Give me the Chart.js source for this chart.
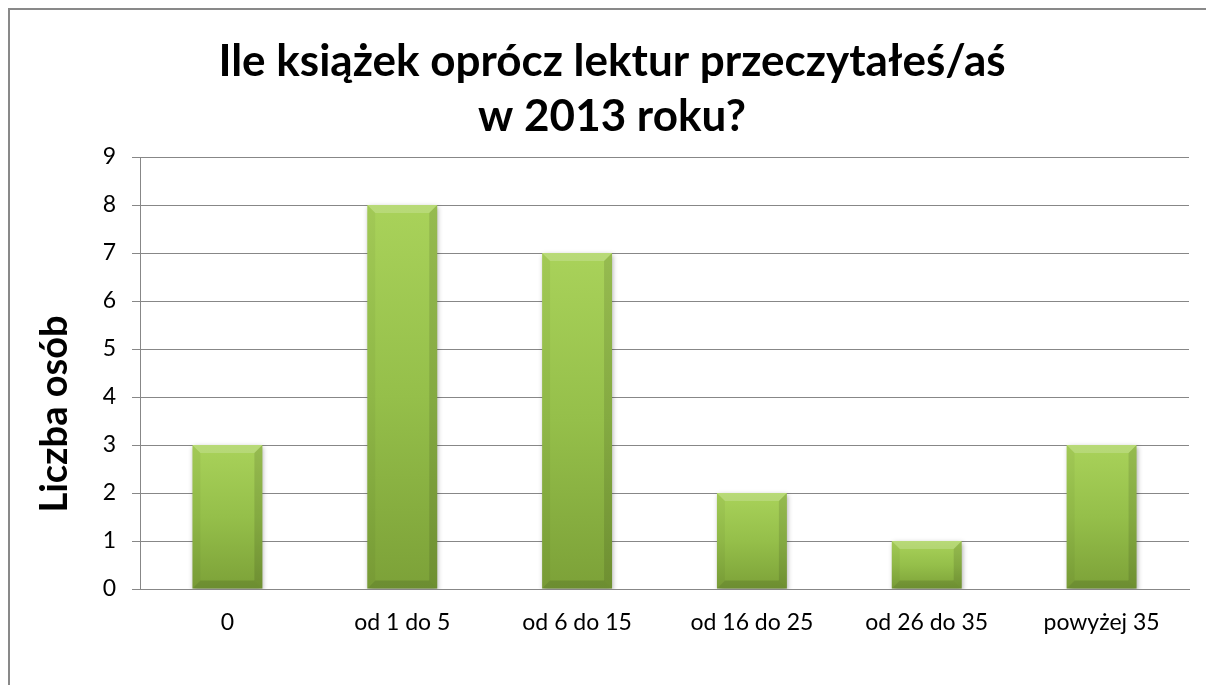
<!DOCTYPE html>
<html>
<head>
<meta charset="utf-8">
<script src="https://cdn.jsdelivr.net/npm/chart.js@4.4.0/dist/chart.umd.min.js"></script>
<style>
  html, body { margin: 0; padding: 0; background: #ffffff; }
  #wrap { position: relative; width: 1206px; height: 685px; }
</style>
</head>
<body>
<div id="wrap"><canvas id="c" width="1206" height="685"></canvas></div>
<script>
const categories = ["0", "od 1 do 5", "od 6 do 15", "od 16 do 25", "od 26 do 35", "powyżej 35"];
const values = [3, 8, 7, 2, 1, 3];
const yTicks = [0, 1, 2, 3, 4, 5, 6, 7, 8, 9];
const titleLines = ["Ile książek oprócz lektur przeczytałeś/aś", "w 2013 roku?"];
const yTitle = "Liczba osób";

const FONT = "Lato, 'Open Sans', 'DejaVu Sans', sans-serif";

const framePlugin = {
  id: 'frame',
  afterDraw(chart) {
    const ctx = chart.ctx;
    ctx.save();
    ctx.strokeStyle = '#898989';
    ctx.lineWidth = 2;
    ctx.beginPath();
    ctx.moveTo(9, 700);
    ctx.lineTo(9, 9);
    ctx.lineTo(1220, 9);
    ctx.stroke();
    ctx.restore();
  }
};

const yTitlePlugin = {
  id: 'yTitle',
  afterDraw(chart) {
    const ctx = chart.ctx;
    const area = chart.chartArea;
    ctx.save();
    ctx.translate(55, (area.top + area.bottom) / 2 + 41);
    ctx.rotate(-Math.PI / 2);
    ctx.font = "bold 38px " + FONT;
    ctx.fillStyle = '#000000';
    ctx.textAlign = 'center';
    ctx.textBaseline = 'middle';
    ctx.fillText(yTitle, 0, 0);
    ctx.restore();
  }
};

const bevelPlugin = {
  id: 'bevel',
  beforeDatasetsDraw(chart) {
    const ctx = chart.ctx;
    ctx.save();
    ctx.shadowColor = 'rgba(0,0,0,0.35)';
    ctx.shadowBlur = 5;
    ctx.shadowOffsetX = 1;
    ctx.shadowOffsetY = 2;
  },
  afterDatasetsDraw(chart) {
    const ctx = chart.ctx;
    ctx.restore();
    const meta = chart.getDatasetMeta(0);
    ctx.save();
    meta.data.forEach(el => {
      const p = el.getProps(['x', 'y', 'width', 'base'], true);
      const l = p.x - p.width / 2, r = p.x + p.width / 2, t = p.y, b = p.base;
      const bv = Math.min(8, (b - t) / 3);
      const poly = (pts, fill) => {
        ctx.beginPath();
        ctx.moveTo(pts[0][0], pts[0][1]);
        for (let i = 1; i < pts.length; i++) ctx.lineTo(pts[i][0], pts[i][1]);
        ctx.closePath();
        ctx.fillStyle = fill;
        ctx.fill();
      };
      poly([[l, t], [r, t], [r - bv, t + bv], [l + bv, t + bv]], 'rgba(255,255,255,0.18)');
      poly([[l, t], [l + bv, t + bv], [l + bv, b - bv], [l, b]], 'rgba(0,0,0,0.04)');
      poly([[r, t], [r - bv, t + bv], [r - bv, b - bv], [r, b]], 'rgba(0,0,0,0.11)');
      poly([[l, b], [l + bv, b - bv], [r - bv, b - bv], [r, b]], 'rgba(0,0,0,0.12)');
    });
    ctx.restore();
  }
};

function barFill(context) {
  const chart = context.chart;
  const ys = chart.scales && chart.scales.y;
  if (!chart.chartArea || !ys || context.parsed === undefined) return '#8fb848';
  const top = ys.getPixelForValue(context.parsed.y);
  const base = ys.getPixelForValue(0);
  if (!isFinite(top) || !isFinite(base) || top === base) return '#8fb848';
  const g = chart.ctx.createLinearGradient(0, top, 0, base);
  g.addColorStop(0, '#a9d25a');
  g.addColorStop(0.5, '#95bf4a');
  g.addColorStop(1, '#7ca138');
  return g;
}

new Chart(document.getElementById('c'), {
  type: 'bar',
  data: {
    labels: categories,
    datasets: [{
      data: values,
      backgroundColor: barFill,
      borderWidth: 0,
      barPercentage: 0.4,
      categoryPercentage: 1.0
    }]
  },
  options: {
    responsive: false,
    animation: false,
    layout: { padding: { left: 35, right: 17, top: 0, bottom: 0 } },
    plugins: {
      legend: { display: false },
      tooltip: { enabled: false },
      title: {
        display: true,
        text: titleLines,
        color: '#000000',
        font: { family: FONT, size: 44, weight: 'bold', lineHeight: 1.25 },
        padding: { top: 34, bottom: 13 }
      }
    },
    scales: {
      x: {
        grid: { display: false, drawTicks: false },
        border: { display: true, color: '#878787', width: 1 },
        ticks: { color: '#000000', font: { family: FONT, size: 23 }, padding: 20, maxRotation: 0 },
        afterFit(s) { s.height = 96; }
      },
      y: {
        min: 0,
        max: 9,
        afterBuildTicks(s) { s.ticks = yTicks.map(v => ({ value: v })); },
        grid: { color: '#878787', lineWidth: 1, drawTicks: true, tickLength: 8 },
        border: { display: true, color: '#878787', width: 1 },
        ticks: { color: '#000000', font: { family: FONT, size: 23 }, padding: 16 },
        title: { display: false },
        afterFit(s) { s.width = 105; }
      }
    }
  },
  plugins: [bevelPlugin, framePlugin, yTitlePlugin]
});
</script>
</body>
</html>
